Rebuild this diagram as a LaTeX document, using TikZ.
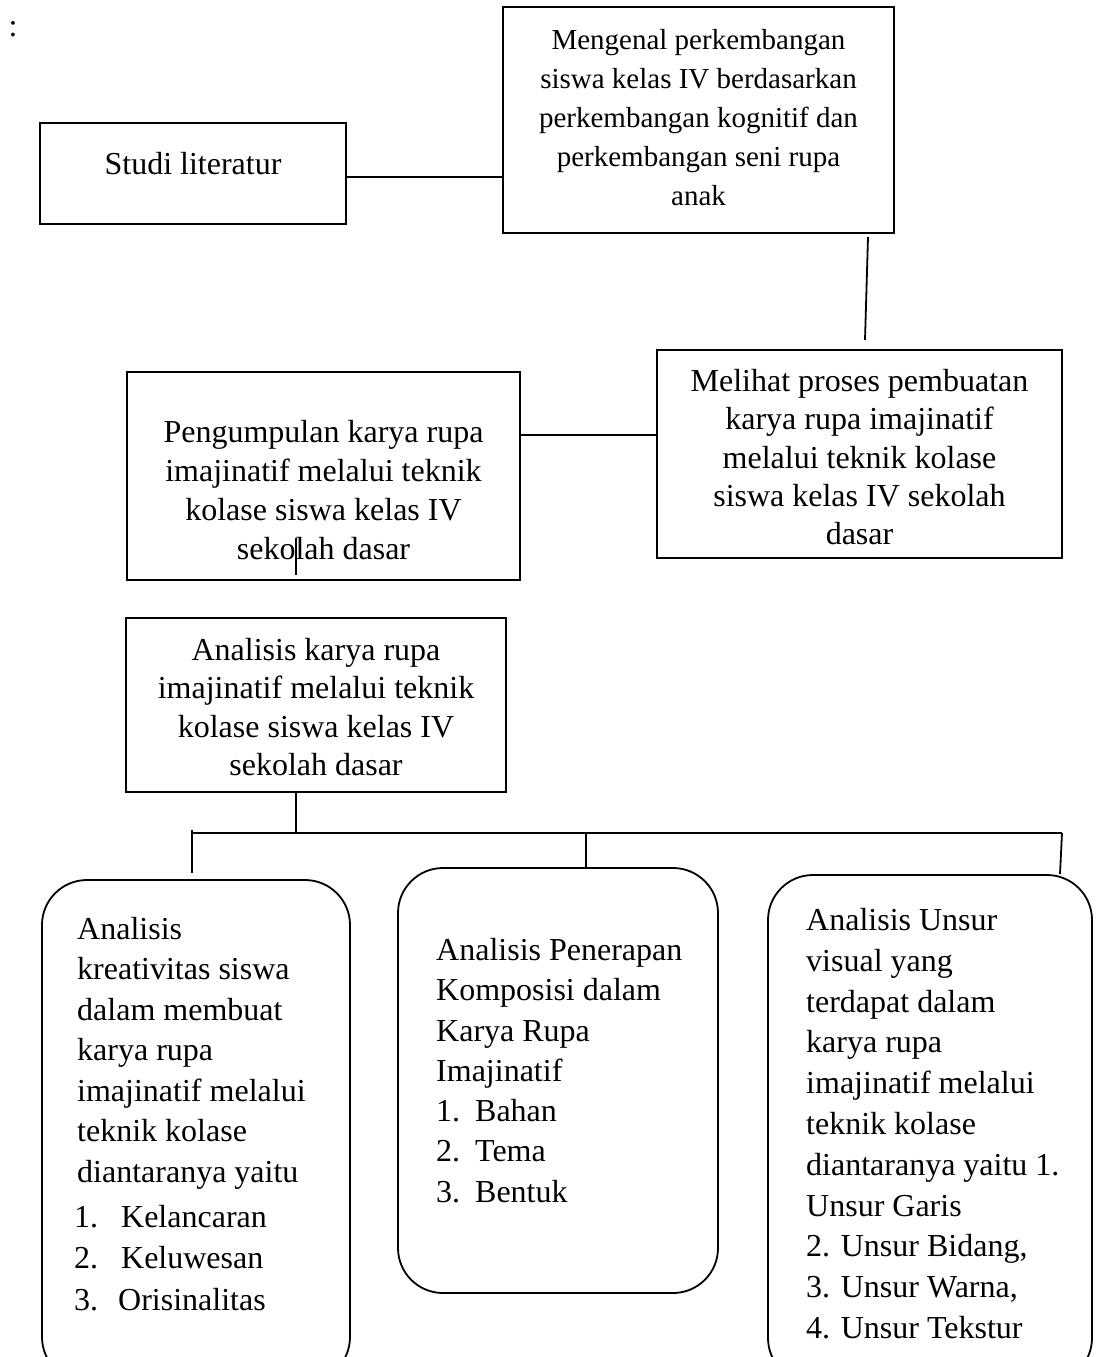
\documentclass[tikz,border=0pt]{standalone}
\usepackage{fontspec}
\setmainfont{Liberation Serif}
\begin{document}
\begin{tikzpicture}[x=1pt,y=-1pt,
  box/.style={draw, line width=2.4pt, inner sep=0pt},
  rbox/.style={draw, line width=1.8pt, rounded corners=45pt, inner sep=0pt},
  ctxt/.style={font=\fontsize{32}{39}\selectfont, inner sep=0pt, align=center, anchor=north},
  ltxt/.style={font=\fontsize{32}{40.5}\selectfont, inner sep=0pt, align=left, anchor=north west},
  conn/.style={line width=1.8pt}]
\useasboundingbox (0,0) rectangle (1095,1357);
\clip (0,0) rectangle (1095,1357);

% colon
\node[ctxt] (colon) at (13,21) {:};

% top boxes
\node[box, minimum width=306pt, minimum height=101pt] (A) at (193,173.5) {};
\node[ctxt] (At) at (193,152) {Studi literatur};

\node[box, minimum width=391pt, minimum height=226pt] (B) at (698.5,120) {};
\node[ctxt, font=\fontsize{29}{39}\selectfont] (Bt) at (698.5,29) {Mengenal perkembangan\\ siswa kelas IV berdasarkan\\ perkembangan kognitif dan\\ perkembangan seni rupa\\ anak};

\node[box, minimum width=405pt, minimum height=208pt] (C) at (859.5,454) {};
\node[ctxt, font=\fontsize{32}{38.3}\selectfont] (Ct) at (859.5,369) {Melihat proses pembuatan\\ karya rupa imajinatif\\ melalui teknik kolase\\ siswa kelas IV sekolah\\ dasar};

\node[box, minimum width=393pt, minimum height=208pt] (D) at (323.5,476) {};
\node[ctxt] (Dt) at (323.5,420) {Pengumpulan karya rupa\\ imajinatif melalui teknik\\ kolase siswa kelas IV\\ sekolah dasar};

\node[box, minimum width=380pt, minimum height=174pt] (E) at (316,705) {};
\node[ctxt, font=\fontsize{32}{38.3}\selectfont] (Et) at (316,638) {Analisis karya rupa\\ imajinatif melalui teknik\\ kolase siswa kelas IV\\ sekolah dasar};

% text cursor mark
\coordinate (cur1) at (296,538);
\coordinate (cur2) at (296,575);
\draw[line width=1.2pt] (cur1) -- (cur2);

% bottom rounded boxes
\node[rbox, minimum width=308pt, minimum height=502pt] (L) at (196,1131) {};
\node[rbox, minimum width=320pt, minimum height=425pt] (M) at (558,1080.5) {};
\node[rbox, minimum width=324pt, minimum height=508pt] (R) at (930,1129) {};

\node[ltxt] (Lt) at (77,917) {Analisis\\ kreativitas siswa\\ dalam membuat\\ karya rupa\\ imajinatif melalui\\ teknik kolase\\ diantaranya yaitu};
\node[ltxt, font=\fontsize{32}{41.5}\selectfont] (Ll) at (74,1205) {\makebox[47pt][l]{1.}Kelancaran\\ \makebox[47pt][l]{2.}Keluwesan\\ \makebox[44pt][l]{3.}Orisinalitas};

\node[ltxt, font=\fontsize{32}{40.3}\selectfont] (Mt) at (436,938) {Analisis Penerapan\\ Komposisi dalam\\ Karya Rupa\\ Imajinatif\\ \makebox[39pt][l]{1.}Bahan\\ \makebox[39pt][l]{2.}Tema\\ \makebox[39pt][l]{3.}Bentuk};

\node[ltxt, font=\fontsize{32}{40.8}\selectfont] (Rt) at (806,908) {Analisis Unsur\\ visual yang\\ terdapat dalam\\ karya rupa\\ imajinatif melalui\\ teknik kolase\\ diantaranya yaitu 1.\\ Unsur Garis\\ 2. Unsur Bidang,\\ 3. Unsur Warna,\\ 4. Unsur Tekstur};

% connectors
\coordinate (ab) at (0,177);
\draw[conn] (A.east |- ab) -- (B.west |- ab);

\coordinate (bc1) at (868,237);
\coordinate (bc2) at (865,340);
\draw[conn] (bc1) -- (bc2);

\coordinate (dc) at (0,435);
\draw[conn] (D.east |- dc) -- (C.west |- dc);

\coordinate (bar) at (0,833);
\coordinate (ed) at (296,0);
\draw[conn] (E.south -| ed) -- (ed |- bar);
\coordinate (barL) at (192,833);
\coordinate (barR) at (1062,833);
\draw[conn] (barL) -- (barR);
\coordinate (dropL) at (192,873);
\draw[conn] (192,830) -- (dropL);
\coordinate (dm) at (586,0);
\draw[conn] (dm |- bar) -- (dm |- M.north);
\coordinate (dr) at (1060,0);
\draw[conn] (barR) -- (dr |- R.north);
\end{tikzpicture}
\end{document}
